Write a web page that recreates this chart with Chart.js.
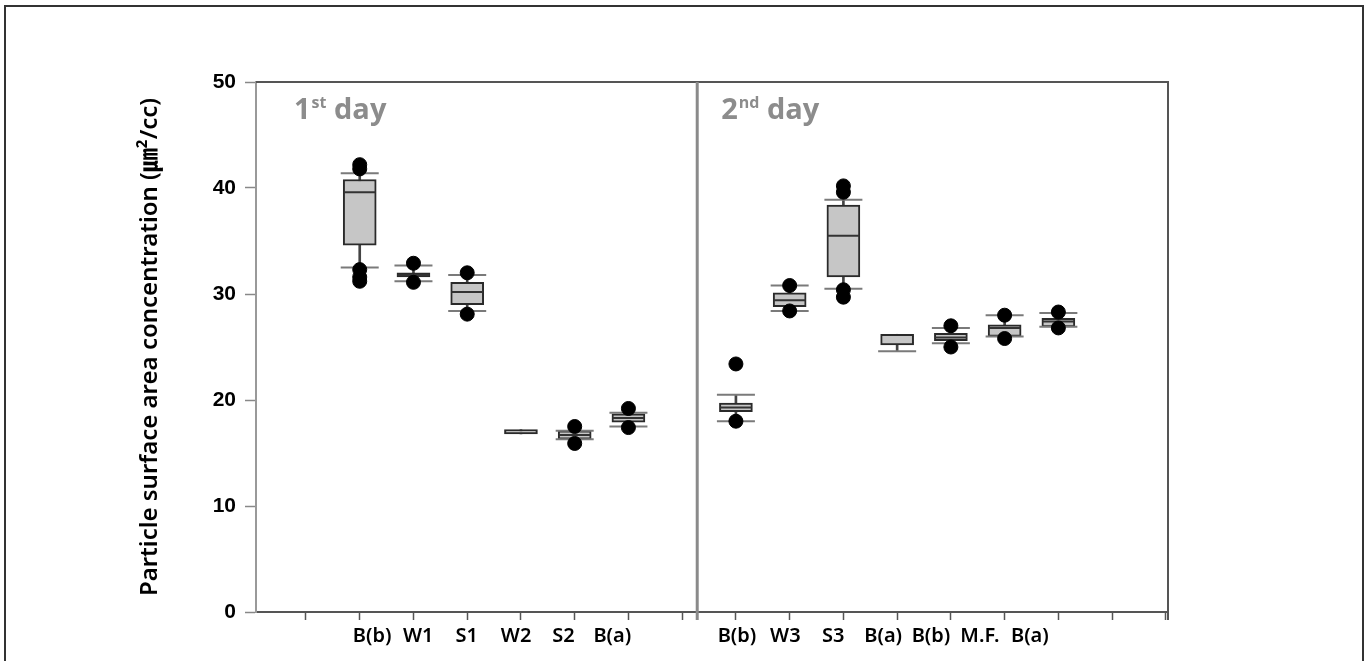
<!DOCTYPE html>
<html>
<head>
<meta charset="utf-8">
<script src="https://cdn.jsdelivr.net/npm/chart.js@4.4.1/dist/chart.umd.min.js"></script>
<style>
  html, body { margin: 0; padding: 0; background: #fff; overflow: hidden; }
  #frame { position: absolute; left: 4px; top: 5px; width: 1356px; height: 700px;
           border: 2px solid #333; border-bottom: none; }
  #wrap { position: absolute; left: 0; top: 0; width: 1370px; height: 661px; }
</style>
</head>
<body>
<div id="frame"></div>
<div id="wrap"><canvas id="chart" width="1370" height="661"></canvas></div>
<script>
// slot on the x axis for each box (1st day: 2..7, 2nd day: 9..15)
const positions = [2, 3, 4, 5, 6, 7, 9, 10, 11, 12, 13, 14, 15];
const categories = ["B(b)", "W1", "S1", "W2", "S2", "B(a)", "B(b)", "W3", "S3", "B(a)", "B(b)", "M.F.", "B(a)"];
// where the category text sits under the axis (axis units)
const labelAt = [2.23, 3.09, 3.99, 4.91, 5.79, 6.70, 9.02, 9.92, 10.81, 11.74, 12.63, 13.54, 14.47];
const q1 = [34.6, 31.6, 29.0, 16.8, 16.3, 17.9, 18.9, 28.8, 31.6, 25.2, 25.6, 26.0, 26.9];
const q3 = [40.8, 32.0, 31.1, 17.2, 17.1, 18.7, 19.7, 30.1, 38.4, 26.2, 26.3, 27.1, 27.7];
// null = line not visible in the original
const medians = [39.6, 31.8, 30.2, null, 16.7, 18.3, 19.3, 29.4, 35.5, null, 25.9, 26.8, 27.4];
const whiskerLow = [32.5, 31.2, 28.4, null, 16.3, 17.5, 18.0, 28.4, 30.5, 24.6, 25.35, 26.0, 26.9];
const whiskerHigh = [41.4, 32.7, 31.8, null, 17.1, 18.8, 20.5, 30.8, 38.9, null, 26.8, 28.0, 28.2];
const outliers = [
  [42.2, 41.8, 32.3, 31.6, 31.2],
  [32.9, 31.1],
  [32.0, 28.1],
  [],
  [17.5, 15.9],
  [19.2, 17.4],
  [23.4, 18.0],
  [30.8, 28.4],
  [40.2, 39.6, 30.4, 29.7],
  [],
  [27.0, 25.0],
  [28.0, 25.8],
  [28.3, 26.8]
];
const yTicks = [0, 10, 20, 30, 40, 50];
const xTickMarks = [1, 2, 3, 4, 5, 6, 7, 8, 9, 10, 11, 12, 13, 14, 15, 16, 17];
const dayDivider = 8.28;
const dayLabels = [["1", "st", " day"], ["2", "nd", " day"]];

const FONT = "'Noto Sans', 'Noto Sans CJK KR', sans-serif";
const DAY_FONT = "'Open Sans', 'Noto Sans', sans-serif";

const panelPlugin = {
  id: "panels",
  afterDatasetsDraw(chart) {
    const { ctx, chartArea: a, scales } = chart;
    ctx.save();
    // top and right frame
    ctx.strokeStyle = "#555";
    ctx.lineWidth = 2;
    ctx.beginPath();
    ctx.moveTo(a.left, a.top);
    ctx.lineTo(a.right, a.top);
    ctx.lineTo(a.right, a.bottom + 8);
    ctx.stroke();
    // day divider
    const dx = scales.x.getPixelForValue(dayDivider);
    ctx.strokeStyle = "#8a8a8a";
    ctx.lineWidth = 3;
    ctx.beginPath();
    ctx.moveTo(dx, a.top);
    ctx.lineTo(dx, a.bottom + 8);
    ctx.stroke();
    // day titles
    ctx.fillStyle = "#8c8c8c";
    ctx.textBaseline = "alphabetic";
    const starts = [a.left + 38, dx + 24];
    dayLabels.forEach((parts, i) => {
      let x = starts[i];
      const y = a.top + 37;
      ctx.font = "bold 29px " + DAY_FONT;
      ctx.fillText(parts[0], x, y);
      x += ctx.measureText(parts[0]).width + 1;
      ctx.font = "bold 16px " + DAY_FONT;
      ctx.fillText(parts[1], x, y - 11);
      x += ctx.measureText(parts[1]).width;
      ctx.font = "bold 29px " + DAY_FONT;
      ctx.fillText(parts[2], x, y);
    });
    ctx.restore();
  }
};

const boxData = positions.map((x, i) => ({ x, y: [q1[i], q3[i]] }));
const stemData = positions.map((x, i) => ({ x, y: [whiskerLow[i] ?? q1[i], whiskerHigh[i] ?? q3[i]] }));
const medianData = positions.map((x, i) => ({ x, y: medians[i] })).filter((p) => p.y !== null);
const capData = positions
  .flatMap((x, i) => [{ x, y: whiskerLow[i] }, { x, y: whiskerHigh[i] }])
  .filter((p) => p.y !== null);
const outlierData = positions.flatMap((x, i) => outliers[i].map((y) => ({ x, y })));

new Chart(document.getElementById("chart"), {
  type: "bar",
  data: {
    datasets: [
      {
        type: "scatter",
        label: "Outliers",
        data: outlierData,
        pointRadius: 7,
        pointBackgroundColor: "#000",
        pointBorderColor: "#000",
        order: 1
      },
      {
        type: "scatter",
        label: "Whisker caps",
        data: capData,
        pointStyle: "line",
        pointRadius: 19,
        pointBorderWidth: 2,
        pointBorderColor: "#7a7a7a",
        order: 2
      },
      {
        type: "scatter",
        label: "Median",
        data: medianData,
        pointStyle: "line",
        pointRadius: 16,
        pointBorderWidth: 2,
        pointBorderColor: "#333",
        order: 3
      },
      {
        label: "Box",
        data: boxData,
        backgroundColor: "#c6c6c6",
        borderColor: "#2a2a2a",
        borderWidth: 2,
        borderSkipped: false,
        barThickness: 33,
        grouped: false,
        order: 4
      },
      {
        label: "Whisker",
        data: stemData,
        backgroundColor: "#444",
        borderWidth: 0,
        barThickness: 2,
        grouped: false,
        order: 5
      }
    ]
  },
  options: {
    responsive: false,
    animation: false,
    layout: { padding: { left: 134, top: 82, right: 202, bottom: 0 } },
    plugins: {
      legend: { display: false },
      tooltip: { enabled: false }
    },
    scales: {
      x: {
        type: "linear",
        offset: false,
        min: 0.07,
        max: 17.04,
        afterFit(s) { s.height = 49; },
        afterBuildTicks(s) {
          s.ticks = xTickMarks.concat(labelAt).sort((a, b) => a - b).map((value) => ({ value }));
        },
        border: { color: "#555", width: 2 },
        grid: {
          offset: false,
          drawOnChartArea: false,
          tickLength: 8,
          tickWidth: 1.5,
          tickColor(ctx) {
            return ctx.tick && labelAt.includes(ctx.tick.value) ? "rgba(0,0,0,0)" : "#555";
          }
        },
        ticks: {
          autoSkip: false,
          maxRotation: 0,
          padding: 4,
          color: "#000",
          font: { family: FONT, size: 20, weight: "600" },
          callback(value) {
            const i = labelAt.indexOf(value);
            return i >= 0 ? categories[i] : "";
          }
        }
      },
      y: {
        min: 0,
        max: 50,
        afterFit(s) { s.width = 122; },
        afterBuildTicks(s) {
          s.ticks = yTicks.map((value) => ({ value }));
        },
        border: { color: "#999", width: 2 },
        grid: { drawOnChartArea: false, tickLength: 11, tickColor: "#888", tickWidth: 1.5 },
        ticks: {
          padding: 9,
          color: "#000",
          font: { family: "'Liberation Sans', Arial, sans-serif", size: 21, weight: "bold" }
        },
        title: {
          display: true,
          text: "Particle surface area concentration (\u339B\u00B2/cc)",
          color: "#000",
          font: { family: FONT, size: 24, weight: "600" },
          padding: { top: 2, bottom: 0 }
        }
      }
    }
  },
  plugins: [panelPlugin]
});
</script>
</body>
</html>
